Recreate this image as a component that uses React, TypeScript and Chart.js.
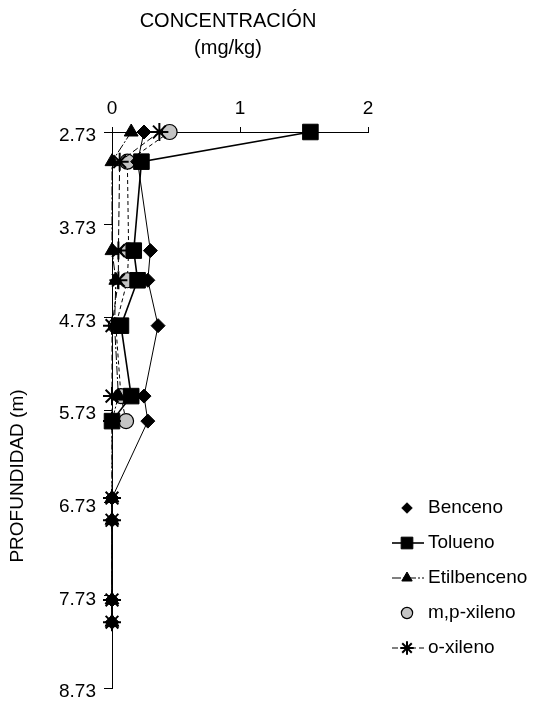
import React, { useEffect, useRef } from "react";
import { Chart, registerables, PointElement } from "chart.js";

Chart.register(...registerables);

// ---- data ----
const depths = [2.73, 3.05, 4.01, 4.33, 4.82, 5.58, 5.85, 6.68, 6.92, 7.78, 8.02];
const benceno = [0.25, 0.2, 0.3, 0.28, 0.36, 0.25, 0.28, 0, 0, 0, 0];
const tolueno = [1.55, 0.23, 0.17, 0.2, 0.07, 0.15, 0.0, null, null, null, null];
const etilbenceno = [0.15, 0.0, 0.0, 0.03, 0.02, 0.05, 0.0, 0, 0, 0, 0];
const mpXileno = [0.45, 0.12, 0.13, 0.12, 0.03, 0.07, 0.11, null, null, null, null];
const oXileno = [0.37, 0.06, 0.05, 0.05, 0.0, 0.0, 0.0, 0, 0, 0, 0];
const seriesNames = ["Benceno", "Tolueno", "Etilbenceno", "m,p-xileno", "o-xileno"];
const xTicks = [0, 1, 2];
const yTicks = [2.73, 3.73, 4.73, 5.73, 6.73, 7.73, 8.73];
const xTitle = ["CONCENTRACIÓN", "(mg/kg)"];
const yTitle = "PROFUNDIDAD (m)";

const FONT = "'Liberation Sans', Arial, sans-serif";

const pts = (vals: (number | null)[]) => vals.map((v, i) => ({ x: v, y: depths[i] }));

const styles = [
  { pointStyle: "rectRot", radius: 7, bg: "#000", bw: 1, line: 1, dash: [] as number[], legendLine: false },
  { pointStyle: "rect", radius: 11, bg: "#000", bw: 1, line: 1.6, dash: [] as number[], legendLine: true },
  { pointStyle: "triangle", radius: 8, bg: "#000", bw: 1, line: 1, dash: [9, 2, 2, 2], legendLine: true },
  { pointStyle: "circle", radius: 7.5, bg: "#c4c4c4", bw: 1.2, line: 1, dash: [4, 3], legendLine: false },
  { pointStyle: "star", radius: 9, bg: "#000", bw: 2, line: 1, dash: [6, 3], legendLine: true },
];

const titlePlugin = {
  id: "titles",
  afterDraw(chart: any) {
    const ctx = chart.ctx;
    ctx.save();
    ctx.fillStyle = "#000";
    ctx.font = `20px ${FONT}`;
    ctx.textAlign = "center";
    ctx.textBaseline = "middle";
    ctx.fillText(xTitle[0], 220, 13);
    ctx.fillText(xTitle[1], 220, 40);
    ctx.translate(10, 468);
    ctx.rotate(-Math.PI / 2);
    ctx.font = `19px ${FONT}`;
    ctx.fillText(yTitle, 0, 0);
    ctx.restore();
  },
};

const legendPlugin = {
  id: "customLegend",
  afterDraw(chart: any) {
    const ctx = chart.ctx;
    chart.data.datasets.forEach((ds: any, i: number) => {
      const st = styles[i];
      const y = 500 + i * 35;
      const mx = 399;
      ctx.save();
      if (st.legendLine) {
        ctx.strokeStyle = "#000";
        ctx.lineWidth = st.line;
        ctx.setLineDash(st.dash);
        ctx.beginPath();
        ctx.moveTo(384, y);
        ctx.lineTo(416, y);
        ctx.stroke();
      }
      ctx.restore();
      ctx.save();
      const p = new PointElement({
        x: mx,
        y,
        options: {
          pointStyle: st.pointStyle,
          radius: st.radius * 0.75,
          rotation: 0,
          borderWidth: st.bw,
          borderColor: "#000",
          backgroundColor: st.bg,
        },
      } as any);
      (p as any).draw(ctx);
      ctx.restore();
      ctx.save();
      ctx.fillStyle = "#000";
      ctx.font = `19px ${FONT}`;
      ctx.textAlign = "left";
      ctx.textBaseline = "middle";
      ctx.fillText(ds.label, 420, y);
      ctx.restore();
    });
  },
};

export default function App() {
  const ref = useRef<HTMLCanvasElement | null>(null);
  useEffect(() => {
    if (!ref.current) return;
    const allVals = [benceno, tolueno, etilbenceno, mpXileno, oXileno];
    const chart = new Chart(ref.current, {
      type: "line",
      data: {
        datasets: allVals.map((vals, i) => ({
          label: seriesNames[i],
          data: pts(vals) as any,
          borderColor: "#000",
          backgroundColor: styles[i].bg,
          borderWidth: styles[i].line,
          borderDash: styles[i].dash,
          pointStyle: styles[i].pointStyle as any,
          pointRadius: styles[i].radius,
          pointBorderWidth: styles[i].bw,
          pointBorderColor: "#000",
          pointBackgroundColor: styles[i].bg,
          tension: 0,
          fill: false,
          clip: false as any,
          order: i === 4 ? -1 : i === 1 ? 0 : 1,
        })),
      },
      options: {
        responsive: false,
        animation: false,
        indexAxis: "y",
        layout: { padding: { left: 0, right: 161, top: 0, bottom: 10 } },
        plugins: { legend: { display: false }, tooltip: { enabled: false } },
        scales: {
          x: {
            type: "linear",
            position: "top",
            min: 0,
            max: 2,
            afterBuildTicks: (s: any) => {
              s.ticks = xTicks.map((v) => ({ value: v }));
            },
            afterFit: (s: any) => {
              s.height = 124;
              s.paddingLeft = 0;
              s.paddingRight = 0;
            },
            ticks: {
              color: "#000",
              padding: 7,
              font: { family: FONT, size: 19 },
              callback: (v: any) => String(v),
            },
            grid: { drawOnChartArea: false, drawTicks: true, tickLength: 5, color: "#000" },
            border: { display: true, color: "#000", width: 1 },
          },
          y: {
            type: "linear",
            reverse: true,
            min: 2.73,
            max: 8.73,
            afterBuildTicks: (s: any) => {
              s.ticks = yTicks.map((v) => ({ value: v }));
            },
            afterFit: (s: any) => {
              s.width = 104;
              s.paddingTop = 0;
              s.paddingBottom = 0;
            },
            ticks: {
              color: "#000",
              padding: 8,
              labelOffset: 4,
              font: { family: FONT, size: 19 },
              callback: (v: any) => Number(v).toFixed(2),
            },
            grid: { drawOnChartArea: false, drawTicks: true, tickLength: 8, color: "#000" },
            border: { display: true, color: "#000", width: 1 },
          },
        },
      },
      plugins: [titlePlugin, legendPlugin],
    });
    return () => chart.destroy();
  }, []);
  return (
    <div style={{ width: 521, height: 692 }}>
      <canvas ref={ref} width={521} height={692} style={{ display: "block" }} />
    </div>
  );
}
